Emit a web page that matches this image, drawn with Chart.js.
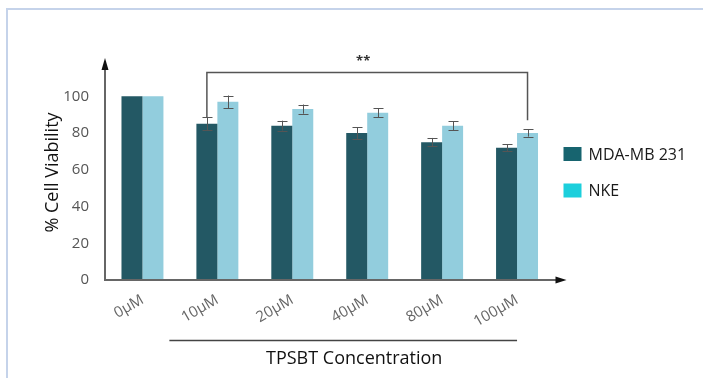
<!DOCTYPE html>
<html>
<head>
<meta charset="utf-8">
<script src="https://cdn.jsdelivr.net/npm/chart.js@4/dist/chart.umd.min.js"></script>
<style>
  html, body { margin: 0; padding: 0; background: #fff; }
  #wrap { position: relative; width: 703px; height: 378px; overflow: hidden; }
  #frame { position: absolute; left: 6px; top: 8px; width: 720px; height: 400px;
           border-top: 2px solid #c5d3ea; border-left: 2px solid #c5d3ea; }
  canvas { position: absolute; left: 0; top: 0; }
</style>
</head>
<body>
<div id="wrap">
  <div id="frame"></div>
  <canvas id="c" width="703" height="378"></canvas>
</div>
<script>
// ---- data ----
const categories = ['0µM', '10µM', '20µM', '40µM', '80µM', '100µM'];
const mdaValues = [100, 85, 84, 80, 75, 72];
const mdaErrors = [0, 3.5, 2.7, 3.2, 2.3, 2.0];
const nkeValues = [100, 97, 93, 91, 84, 80];
const nkeErrors = [0, 3.4, 2.5, 2.5, 2.5, 2.0];
const yTicks = [0, 20, 40, 60, 80, 100];
const seriesNames = ['MDA-MB 231', 'NKE'];
const legendColors = ['#17646f', '#1ccfdc'];
const yTitle = '% Cell Viability';
const xTitle = 'TPSBT Concentration';
// significance bracket: from MDA bar of category 1 to NKE bar of category 5
const sigFrom = [0, 1];   // [datasetIndex, categoryIndex]
const sigTo = [1, 5];
const sigLevel = 113;
const sigLeftEnd = 88.5;
const sigRightEnd = 87;
const sigLabel = '**';

const FONT = "'Open Sans', sans-serif";
const errors = [mdaErrors, nkeErrors];

const decor = {
  id: 'decor',
  afterDatasetsDraw(chart) {
    const ctx = chart.ctx;
    const xs = chart.scales.x, ys = chart.scales.y;
    const ca = chart.chartArea;
    ctx.save();
    // error bars
    ctx.strokeStyle = '#555';
    ctx.lineWidth = 1;
    chart.data.datasets.forEach((ds, di) => {
      const meta = chart.getDatasetMeta(di);
      meta.data.forEach((el, i) => {
        const e = errors[di][i];
        if (!e) return;
        const v = ds.data[i];
        const yt = ys.getPixelForValue(v + e), yb = ys.getPixelForValue(v - e);
        const x = Math.round(el.x) + 0.5;
        ctx.beginPath();
        ctx.moveTo(x, yt); ctx.lineTo(x, yb);
        ctx.moveTo(x - 5, Math.round(yt) + 0.5); ctx.lineTo(x + 5, Math.round(yt) + 0.5);
        ctx.moveTo(x - 5, Math.round(yb) + 0.5); ctx.lineTo(x + 5, Math.round(yb) + 0.5);
        ctx.stroke();
      });
    });
    // axes with arrows
    ctx.strokeStyle = '#666';
    ctx.fillStyle = '#111';
    ctx.lineWidth = 2;
    const x0 = ca.left, y0 = ca.bottom;
    ctx.beginPath();
    ctx.moveTo(x0, y0); ctx.lineTo(x0, ca.top + 5);
    ctx.moveTo(x0 - 1, y0); ctx.lineTo(ca.right + 2, y0);
    ctx.stroke();
    ctx.beginPath();
    ctx.moveTo(x0, ca.top - 7); ctx.lineTo(x0 - 3.5, ca.top + 5); ctx.lineTo(x0 + 3.5, ca.top + 5); ctx.closePath();
    ctx.fill();
    ctx.beginPath();
    ctx.moveTo(ca.right + 12, y0); ctx.lineTo(ca.right + 1, y0 - 3.5); ctx.lineTo(ca.right + 1, y0 + 3.5); ctx.closePath();
    ctx.fill();
    // significance bracket
    const xa = chart.getDatasetMeta(sigFrom[0]).data[sigFrom[1]].x;
    const xb = chart.getDatasetMeta(sigTo[0]).data[sigTo[1]].x;
    const yl = Math.round(ys.getPixelForValue(sigLevel)) + 0.5;
    ctx.strokeStyle = '#555';
    ctx.lineWidth = 1.5;
    ctx.beginPath();
    ctx.moveTo(xa, ys.getPixelForValue(sigLeftEnd));
    ctx.lineTo(xa, yl); ctx.lineTo(xb, yl);
    ctx.lineTo(xb, ys.getPixelForValue(sigRightEnd));
    ctx.stroke();
    ctx.fillStyle = '#333';
    ctx.font = 'bold 13px ' + FONT;
    ctx.textAlign = 'center';
    ctx.textBaseline = 'middle';
    ctx.fillText(sigLabel, (xa + xb) / 2 - 4, yl - 11);
    // underline of concentration labels and x title
    const lx0 = xs.getPixelForValue(1) - 48;
    const lx1 = xs.getPixelForValue(5);
    ctx.strokeStyle = '#444';
    ctx.lineWidth = 1.5;
    ctx.beginPath();
    ctx.moveTo(lx0, 340.5); ctx.lineTo(lx1, 340.5);
    ctx.stroke();
    ctx.fillStyle = '#111';
    ctx.font = '18px ' + FONT;
    ctx.fillText(xTitle, (lx0 + lx1) / 2 + 11, 359);
    // legend
    ctx.textAlign = 'left';
    ctx.font = '16px ' + FONT;
    seriesNames.forEach((name, i) => {
      const cy = 154 + i * 36.5;
      ctx.fillStyle = legendColors[i];
      ctx.fillRect(ca.right + 9, cy - 7, 18, 14);
      ctx.fillStyle = '#1a1a1a';
      ctx.fillText(name, ca.right + 34, cy + 1);
    });
    ctx.restore();
  }
};

new Chart(document.getElementById('c'), {
  type: 'bar',
  data: {
    labels: categories,
    datasets: [
      { label: seriesNames[0], data: mdaValues, backgroundColor: '#235864' },
      { label: seriesNames[1], data: nkeValues, backgroundColor: '#92cddd' }
    ]
  },
  options: {
    responsive: false,
    animation: false,
    events: [],
    layout: { padding: { top: 65, right: 148.5, left: 0, bottom: 0 } },
    datasets: { bar: { categoryPercentage: 0.56, barPercentage: 1.0 } },
    plugins: { legend: { display: false }, tooltip: { enabled: false } },
    scales: {
      x: {
        grid: { display: false, drawTicks: false },
        border: { display: false },
        ticks: { color: '#666', font: { family: FONT, size: 15 }, minRotation: 30, maxRotation: 30, padding: 11 },
        afterFit(s) { s.height = 98; }
      },
      y: {
        min: 0, max: 117,
        grid: { display: false, drawTicks: false },
        border: { display: false },
        ticks: { color: '#555', font: { family: FONT, size: 15 }, padding: 16, stepSize: 20 },
        afterBuildTicks(s) { s.ticks = yTicks.map(v => ({ value: v })); },
        title: { display: true, text: yTitle, color: '#111', font: { family: FONT, size: 18 }, padding: { top: 42, bottom: 0 } },
        afterFit(s) { s.width = 105; }
      }
    }
  },
  plugins: [decor]
});
</script>
</body>
</html>
